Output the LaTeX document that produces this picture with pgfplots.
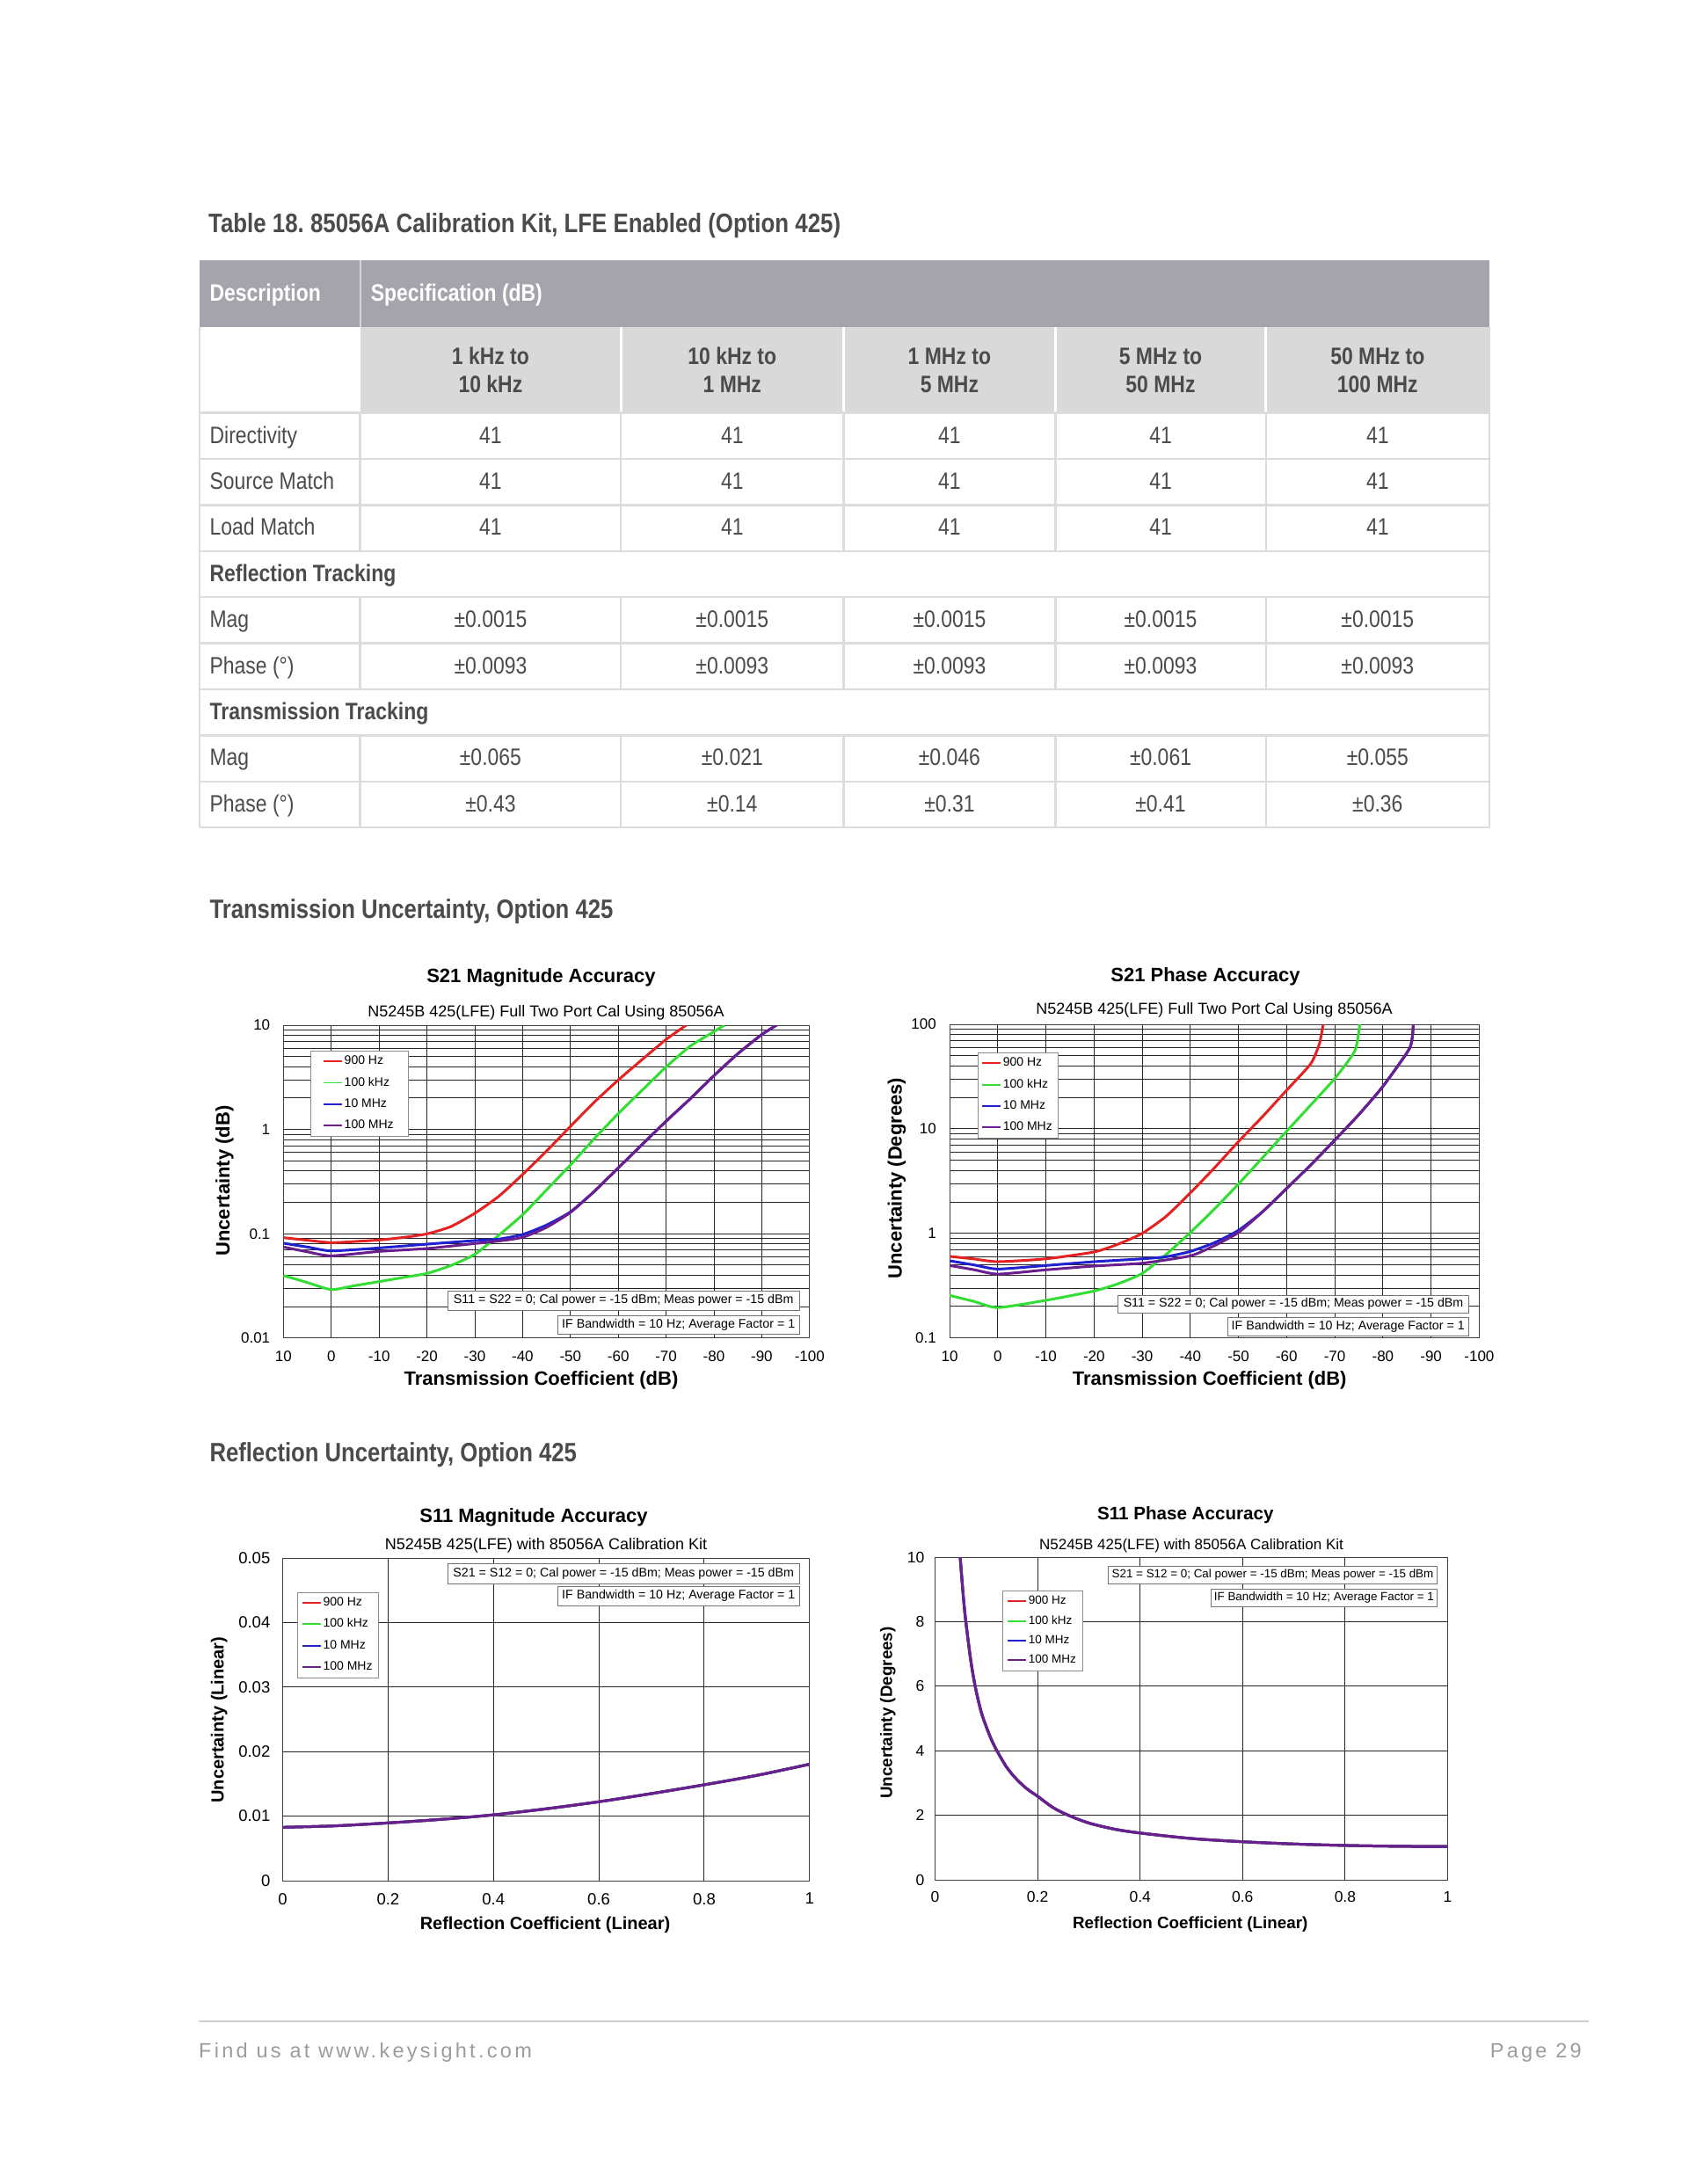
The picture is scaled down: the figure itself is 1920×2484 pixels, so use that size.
\documentclass[border=0pt]{standalone}
\usepackage{fontspec}
\setmainfont{Liberation Sans}
\newfontfamily\tabfont[FakeStretch=0.85]{Liberation Sans}
\newfontfamily\footfont[LetterSpace=14]{Liberation Sans}
\usepackage{pgfplots}
\usepackage{pgfplotstable}
\pgfplotsset{compat=1.18}
\frenchspacing
\definecolor{hdr}{HTML}{A5A3AC}
\definecolor{subhdr}{HTML}{D9D9D9}
\definecolor{rulec}{HTML}{DCDCDC}
\definecolor{txt}{HTML}{4B4B4B}
\definecolor{foot}{HTML}{9C9C9C}
\definecolor{cred}{HTML}{E52222}
\definecolor{cgreen}{HTML}{33DD33}
\definecolor{cblue}{HTML}{2121CF}
\definecolor{cpurple}{HTML}{6B1E8E}
\newcommand{\fs}[1]{\fontsize{#1}{#1}\selectfont}

\pgfplotstableread{
x y
0 0.00827
0.1 0.0085
0.2 0.00895
0.3 0.0095
0.4 0.0102
0.5 0.01114
0.6 0.01223
0.7 0.0135
0.8 0.01486
0.9 0.01632
1.0 0.01805
}\smag

\pgfplotstableread{
x y
0.048 10.2
0.055 8.8
0.06 8.0
0.07 6.76
0.079 5.94
0.09 5.2
0.1 4.74
0.11 4.34
0.121 3.99
0.14 3.48
0.16 3.1
0.18 2.81
0.2 2.59
0.23 2.24
0.26 2.0
0.3 1.76
0.35 1.57
0.4 1.45
0.5 1.28
0.6 1.18
0.7 1.11
0.8 1.065
0.9 1.04
1.0 1.03
}\sphase

\pgfplotsset{
  chart/.style={
    scale only axis, anchor=south west, clip=true,
    axis line style={black!75, line width=1pt},
    tick style={draw=none},
    major tick length=0pt, minor tick length=0pt,
    grid style={black!85, line width=0.9pt},
    minor grid style={black!85, line width=0.9pt},
    /pgf/number format/assume math mode=true,
    scaled ticks=false,
    xticklabel style={inner sep=0pt, yshift=-15pt},
    yticklabel style={inner sep=0pt, xshift=-15pt},
    legend cell align=left,
    legend image code/.code={\draw[##1, line width=1.9pt] (0pt,0pt) -- (21pt,0pt);},
    legend style={draw=black!45, fill=white, anchor=north west, inner ysep=4pt, row sep=8.3pt,
      nodes={inner sep=1.5pt, text height=10pt, text depth=3pt}},
    every axis plot/.append style={line width=3pt},
  },
}

\begin{document}
\begin{tikzpicture}
\begin{scope}[x=1pt,y=-1pt]
\path[use as bounding box, fill=white] (0,0) rectangle (1920,2484);

% ---------- table ----------
\node[anchor=base west, font=\tabfont\bfseries\fs{30.4}, text=txt, inner sep=0pt] at (237,264) {Table 18. 85056A Calibration Kit, LFE Enabled (Option 425)};
\fill[hdr] (226.8,296) rectangle (1693.8,371.5);
\draw[white!55!hdr, line width=2] (409.5,296) -- (409.5,371.5);
\fill[subhdr] (409.5,371.5) rectangle (1693.8,469.6);
\foreach \x in {706.2,959.4,1200.3,1439.8} \draw[white, line width=3] (\x,371.5) -- (\x,469.6);
\node[anchor=base west, font=\tabfont\bfseries\fs{27}, text=white, inner sep=0pt] at (238.4,342.7) {Description};
\node[anchor=base west, font=\tabfont\bfseries\fs{27}, text=white, inner sep=0pt] at (421.6,342.7) {Specification (dB)};
\foreach \x/\a/\b in {557.9/1 kHz to/10 kHz, 832.8/10 kHz to/1 MHz, 1079.9/1 MHz to/5 MHz, 1320/5 MHz to/50 MHz, 1566.8/50 MHz to/100 MHz}{
  \node[anchor=base, font=\tabfont\bfseries\fs{27}, text=txt, inner sep=0pt] at (\x,414.2) {\a};
  \node[anchor=base, font=\tabfont\bfseries\fs{27}, text=txt, inner sep=0pt] at (\x,446.2) {\b};
}
\foreach \k in {0,...,9} \draw[rulec, line width=2.5] (226.8,{469.6+52.4*\k}) -- (1693.8,{469.6+52.4*\k});
\draw[rulec, line width=2.5] (226.8,371.5) -- (226.8,941.2);
\draw[rulec, line width=2.5] (1693.8,371.5) -- (1693.8,941.2);
\foreach \x in {409.5,706.2,959.4,1200.3,1439.8}{
  \draw[rulec, line width=2.5] (\x,469.6) -- (\x,626.8);
  \draw[rulec, line width=2.5] (\x,679.2) -- (\x,784);
  \draw[rulec, line width=2.5] (\x,836.4) -- (\x,941.2);
}
\foreach \k/\t in {1/Directivity, 2/Source Match, 3/Load Match, 5/Mag, 6/{Phase (°)}, 8/Mag, 9/{Phase (°)}}
  \node[anchor=base west, font=\tabfont\fs{27}, text=txt, inner sep=0pt] at (238.4,{469.6+52.4*\k-18}) {\t};
\foreach \k/\t in {4/Reflection Tracking, 7/Transmission Tracking}
  \node[anchor=base west, font=\tabfont\bfseries\fs{27}, text=txt, inner sep=0pt] at (238.4,{469.6+52.4*\k-18}) {\t};
\foreach \k/\a/\b/\c/\d/\e in {1/41/41/41/41/41, 2/41/41/41/41/41, 3/41/41/41/41/41,
   5/±0.0015/±0.0015/±0.0015/±0.0015/±0.0015, 6/±0.0093/±0.0093/±0.0093/±0.0093/±0.0093,
   8/±0.065/±0.021/±0.046/±0.061/±0.055, 9/±0.43/±0.14/±0.31/±0.41/±0.36}{
  \foreach \x/\v in {557.9/\a, 832.8/\b, 1079.9/\c, 1320/\d, 1566.8/\e}
    \node[anchor=base, font=\tabfont\fs{27}, text=txt, inner sep=0pt] at (\x,{469.6+52.4*\k-18}) {\v};
}

% ---------- section headings ----------
\node[anchor=base west, font=\tabfont\bfseries\fs{30.2}, text=txt, inner sep=0pt] at (238.3,1044.7) {Transmission Uncertainty, Option 425};
\node[anchor=base west, font=\tabfont\bfseries\fs{30.2}, text=txt, inner sep=0pt] at (238.3,1662.7) {Reflection Uncertainty, Option 425};

% ---------- footer ----------
\draw[black!20, line width=2] (226,2299) -- (1806.7,2299);
\node[anchor=base west, font=\footfont\fs{23.5}, text=foot, inner sep=0pt] at (226,2340) {Find us at www.keysight.com};
\node[anchor=base east, font=\footfont\fs{23.5}, text=foot, inner sep=0pt] at (1799,2340) {Page 29};
\end{scope}

% ---------- S21 magnitude ----------
\begin{axis}[chart, at={(322.4pt,-1521.7pt)}, width=598.4pt, height=355.7pt,
  ymode=log, x dir=reverse, xmin=-100, xmax=10,
  xtick={-100,-90,-80,-70,-60,-50,-40,-30,-20,-10,0,10},
  xticklabels={-100,-90,-80,-70,-60,-50,-40,-30,-20,-10,0,10},
  xmajorgrids, ymajorgrids, yminorgrids, ticklabel style={font=\fs{17}},
  ymin=0.01, ymax=10, ytick={0.01,0.1,1,10}, yticklabels={0.01,0.1,1,10},
  minor ytick={0.02,0.03,0.04,0.05,0.06,0.07,0.08,0.09,0.2,0.3,0.4,0.5,0.6,0.7,0.8,0.9,2,3,4,5,6,7,8,9},
  legend style={at={(0.0505,0.9185)}, font=\fs{14}, inner xsep=14.5pt}]
\addplot[cred, smooth, tension=0.35] coordinates {(10,0.0916) (5,0.0865) (0,0.082) (-5,0.0842) (-10,0.087) (-15,0.092) (-20,0.0996) (-25,0.117) (-30,0.157) (-35,0.228) (-40,0.37) (-45,0.62) (-50,1.07) (-55,1.83) (-60,2.98) (-65,4.69) (-70,7.3) (-74.2,10)};
\addlegendentry{900 Hz}
\addplot[cgreen, smooth, tension=0.35] coordinates {(10,0.0397) (5,0.034) (0,0.0291) (-5,0.0318) (-10,0.0347) (-15,0.038) (-20,0.0416) (-25,0.0495) (-30,0.0634) (-35,0.0964) (-40,0.152) (-45,0.263) (-50,0.456) (-55,0.817) (-60,1.42) (-65,2.38) (-70,3.98) (-75,6.28) (-80,8.67) (-82.2,10)};
\addlegendentry{100 kHz}
\addplot[cblue, smooth, tension=0.35] coordinates {(10,0.081) (5,0.0745) (0,0.0684) (-10,0.073) (-20,0.0794) (-30,0.0859) (-35,0.0887) (-40,0.0983) (-45,0.121) (-50,0.162) (-55,0.255) (-60,0.428) (-65,0.718) (-70,1.2) (-75,1.96) (-80,3.28) (-85,5.33) (-90,8.13) (-93.1,10)};
\addlegendentry{10 MHz}
\addplot[cpurple, smooth, tension=0.35] coordinates {(10,0.0745) (5,0.067) (0,0.0613) (-10,0.0676) (-20,0.0721) (-30,0.0805) (-35,0.085) (-40,0.0923) (-45,0.115) (-50,0.16) (-55,0.255) (-60,0.428) (-65,0.718) (-70,1.2) (-75,1.96) (-80,3.28) (-85,5.33) (-90,8.13) (-93.1,10)};
\addlegendentry{100 MHz}
\end{axis}

% ---------- S21 phase ----------
\begin{axis}[chart, at={(1080pt,-1521.7pt)}, width=602.4pt, height=356.7pt,
  ymode=log, x dir=reverse, xmin=-100, xmax=10,
  xtick={-100,-90,-80,-70,-60,-50,-40,-30,-20,-10,0,10},
  xticklabels={-100,-90,-80,-70,-60,-50,-40,-30,-20,-10,0,10},
  xmajorgrids, ymajorgrids, yminorgrids, ticklabel style={font=\fs{17}},
  ymin=0.1, ymax=100, ytick={0.1,1,10,100}, yticklabels={0.1,1,10,100},
  minor ytick={0.2,0.3,0.4,0.5,0.6,0.7,0.8,0.9,2,3,4,5,6,7,8,9,20,30,40,50,60,70,80,90},
  legend style={at={(0.0527,0.910)}, font=\fs{14}, inner xsep=4.5pt}]
\addplot[cred, smooth, tension=0.35] coordinates {(10,0.603) (5,0.57) (0,0.536) (-10,0.571) (-20,0.664) (-25,0.789) (-30,1.0) (-35,1.46) (-40,2.44) (-45,4.23) (-50,7.56) (-55,13.1) (-60,23.4) (-65,41.9) (-66.8,64.9) (-67.6,100)};
\addlegendentry{900 Hz}
\addplot[cgreen, smooth, tension=0.35] coordinates {(10,0.255) (5,0.224) (0,0.195) (-10,0.229) (-20,0.281) (-25,0.33) (-30,0.414) (-35,0.63) (-40,1.02) (-45,1.71) (-50,2.97) (-55,5.3) (-60,9.48) (-65,16.9) (-70,30.3) (-74.2,56) (-75.2,100)};
\addlegendentry{100 kHz}
\addplot[cblue, smooth, tension=0.35] coordinates {(10,0.547) (5,0.5) (0,0.456) (-10,0.493) (-20,0.536) (-30,0.571) (-35,0.598) (-40,0.672) (-45,0.815) (-50,1.07) (-55,1.61) (-60,2.69) (-65,4.51) (-70,7.81) (-75,13.7) (-80,25.5) (-85.6,59.7) (-86.3,100)};
\addlegendentry{10 MHz}
\addplot[cpurple, smooth, tension=0.35] coordinates {(10,0.493) (5,0.45) (0,0.408) (-10,0.448) (-20,0.487) (-30,0.519) (-40,0.61) (-45,0.764) (-50,1.02) (-55,1.61) (-60,2.69) (-65,4.51) (-70,7.81) (-75,13.7) (-80,25.5) (-85.6,59.7) (-86.3,100)};
\addlegendentry{100 MHz}
\end{axis}

% ---------- S11 magnitude ----------
\begin{axis}[chart, at={(321.5pt,-2139pt)}, width=599.3pt, height=367pt,
  xmin=0, xmax=1, ymin=0, ymax=0.05,
  xtick={0,0.2,0.4,0.6,0.8,1}, xticklabels={0,0.2,0.4,0.6,0.8,1},
  ytick={0,0.01,0.02,0.03,0.04,0.05}, yticklabels={0,0.01,0.02,0.03,0.04,0.05},
  xmajorgrids, ymajorgrids, ticklabel style={font=\fs{18.5}},
  xticklabel style={yshift=1pt}, yticklabel style={xshift=1pt},
  legend style={at={(0.0275,0.894)}, font=\fs{14}, inner xsep=5pt}]
\addplot[cred, smooth] table {\smag};
\addlegendentry{900 Hz}
\addplot[cgreen, smooth] table {\smag};
\addlegendentry{100 kHz}
\addplot[cblue, smooth] table {\smag};
\addlegendentry{10 MHz}
\addplot[cpurple, smooth] table {\smag};
\addlegendentry{100 MHz}
\end{axis}

% ---------- S11 phase ----------
\begin{axis}[chart, at={(1063.5pt,-2138pt)}, width=583pt, height=367pt,
  xmin=0, xmax=1, ymin=0, ymax=10,
  xtick={0,0.2,0.4,0.6,0.8,1}, xticklabels={0,0.2,0.4,0.6,0.8,1},
  ytick={0,2,4,6,8,10}, yticklabels={0,2,4,6,8,10},
  xmajorgrids, ymajorgrids, ticklabel style={font=\fs{17.5}},
  xticklabel style={yshift=1.5pt}, yticklabel style={xshift=3pt},
  legend style={at={(0.1307,0.896)}, font=\fs{13.5}, inner xsep=5.5pt, row sep=6.3pt}]
\addplot[cred, smooth] table {\sphase};
\addlegendentry{900 Hz}
\addplot[cgreen, smooth] table {\sphase};
\addlegendentry{100 kHz}
\addplot[cblue, smooth] table {\sphase};
\addlegendentry{10 MHz}
\addplot[cpurple, smooth] table {\sphase};
\addlegendentry{100 MHz}
\end{axis}

\begin{scope}[x=1pt,y=-1pt]
% chart titles and labels
\node[anchor=base, font=\bfseries\fs{22}, inner sep=0pt] at (615.5,1117) {S21 Magnitude Accuracy};
\node[anchor=base, font=\fs{18}, inner sep=0pt] at (621,1156.5) {N5245B 425(LFE) Full Two Port Cal Using 85056A};
\node[anchor=base, font=\bfseries\fs{22}, inner sep=0pt] at (615.5,1575) {Transmission Coefficient (dB)};
\node[anchor=base, rotate=90, font=\bfseries\fs{22}, inner sep=0pt] at (261,1343) {Uncertainty (dB)};

\node[anchor=base, font=\bfseries\fs{22}, inner sep=0pt] at (1371,1116) {S21 Phase Accuracy};
\node[anchor=base, font=\fs{18}, inner sep=0pt] at (1381,1153.5) {N5245B 425(LFE) Full Two Port Cal Using 85056A};
\node[anchor=base, font=\bfseries\fs{22}, inner sep=0pt] at (1375.7,1575) {Transmission Coefficient (dB)};
\node[anchor=base, rotate=90, font=\bfseries\fs{22}, inner sep=0pt] at (1025.5,1340) {Uncertainty (Degrees)};

\node[anchor=base, font=\bfseries\fs{22}, inner sep=0pt] at (607,1731) {S11 Magnitude Accuracy};
\node[anchor=base, font=\fs{18}, inner sep=0pt] at (621,1762.5) {N5245B 425(LFE) with 85056A Calibration Kit};
\node[anchor=base, font=\bfseries\fs{20}, inner sep=0pt] at (620,2194) {Reflection Coefficient (Linear)};
\node[anchor=base, rotate=90, font=\bfseries\fs{20}, inner sep=0pt] at (254.4,1956) {Uncertainty (Linear)};

\node[anchor=base, font=\bfseries\fs{20.6}, inner sep=0pt] at (1348.3,1728.5) {S11 Phase Accuracy};
\node[anchor=base, font=\fs{17}, inner sep=0pt] at (1355,1762) {N5245B 425(LFE) with 85056A Calibration Kit};
\node[anchor=base, font=\bfseries\fs{18.8}, inner sep=0pt] at (1353.7,2193) {Reflection Coefficient (Linear)};
\node[anchor=base, rotate=90, font=\bfseries\fs{18.8}, inner sep=0pt] at (1014.7,1948) {Uncertainty (Degrees)};

% annotation boxes
\tikzset{ann/.style={draw=black!55, fill=white, inner sep=0pt, line width=0.9pt}}
\node[ann, minimum width=399.7pt, minimum height=22pt, font=\fs{14.2}] at (709.2,1479) {S11 = S22 = 0; Cal power = -15 dBm; Meas power = -15 dBm};
\node[ann, minimum width=274.7pt, minimum height=21pt, font=\fs{14.2}] at (771.7,1506.5) {IF Bandwidth = 10 Hz; Average Factor = 1};
\node[ann, minimum width=398.9pt, minimum height=20pt, font=\fs{14.2}] at (1471,1483) {S11 = S22 = 0; Cal power = -15 dBm; Meas power = -15 dBm};
\node[ann, minimum width=274.5pt, minimum height=21pt, font=\fs{14.2}] at (1533.2,1508.5) {IF Bandwidth = 10 Hz; Average Factor = 1};
\node[ann, minimum width=399.7pt, minimum height=23pt, font=\fs{14.2}] at (709.2,1789.5) {S21 = S12 = 0; Cal power = -15 dBm; Meas power = -15 dBm};
\node[ann, minimum width=274.7pt, minimum height=22pt, font=\fs{14.2}] at (771.7,1815) {IF Bandwidth = 10 Hz; Average Factor = 1};
\node[ann, minimum width=374.1pt, minimum height=20pt, font=\fs{13.4}] at (1447.5,1791) {S21 = S12 = 0; Cal power = -15 dBm; Meas power = -15 dBm};
\node[ann, minimum width=257.2pt, minimum height=20pt, font=\fs{13.4}] at (1505.9,1817) {IF Bandwidth = 10 Hz; Average Factor = 1};
\end{scope}
\end{tikzpicture}
\end{document}
